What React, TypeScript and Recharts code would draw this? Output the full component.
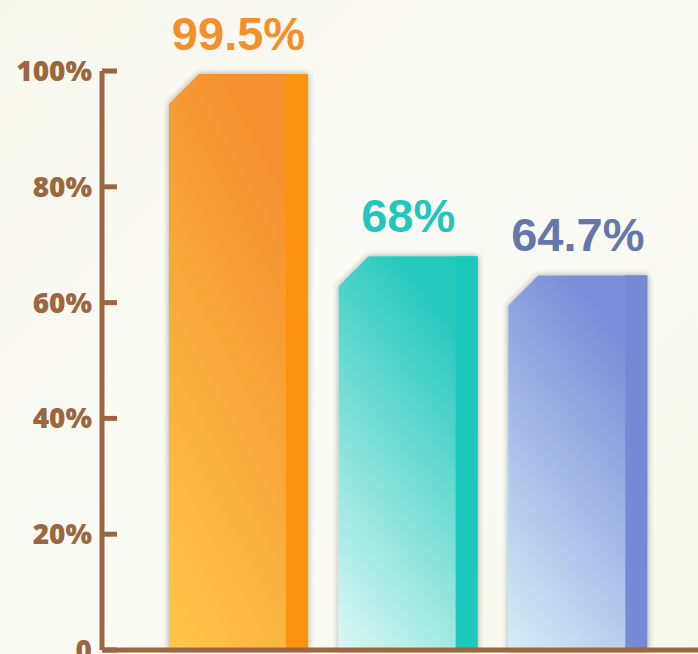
import React from 'react';
import { BarChart, Bar, XAxis, YAxis, LabelList, Cell } from 'recharts';

const categories = ['A', 'B', 'C'];
const values = [99.5, 68, 64.7];
const valueLabels = ['99.5%', '68%', '64.7%'];
const yTicks = [0, 20, 40, 60, 80, 100];

// styling, kept apart from the data
const barColors = [
  { light: '#ffc74a', dark: '#f4902e', strip: '#fc920f', label: '#f58f2a' },
  { light: '#dbf8f4', dark: '#26c9be', strip: '#1dc8bc', label: '#21c6bc' },
  { light: '#d5eef7', dark: '#7a8dd8', strip: '#7689d5', label: '#6576aa' },
];
const AXIS = '#9b6740';

const data = categories.map((name, i) => ({ name, value: values[i], label: valueLabels[i] }));

const ChamferBar = (props: any) => {
  const { x, y, width, height, index } = props;
  if (!height || height <= 0) return null;
  const c = 30;
  const strip = 22;
  const d = `M${x},${y + c} L${x + c},${y} L${x + width},${y} L${x + width},${y + height} L${x},${y + height} Z`;
  return (
    <g filter="url(#barShadow)">
      <path d={d} fill={`url(#grad${index})`} />
      <rect x={x + width - strip} y={y} width={strip} height={height} fill={barColors[index].strip} />
    </g>
  );
};

const ValueLabel = (props: any) => {
  const { x, y, width, value, index } = props;
  return (
    <text
      x={x + width / 2}
      y={y - 24}
      textAnchor="middle"
      fill={barColors[index].label}
      style={{ fontFamily: '"Liberation Sans", Arial, sans-serif', fontWeight: 700, fontSize: 47 }}
    >
      {value}
    </text>
  );
};

const YTick = (props: any) => {
  const { x, y, payload } = props;
  const v = payload.value;
  return (
    <g>
      <line x1={x} x2={x + 15} y1={y} y2={y} stroke={AXIS} strokeWidth={5} />
      <text
        x={x - 10}
        y={y}
        dy={10}
        textAnchor="end"
        fill={AXIS}
        style={{ fontFamily: '"Open Sans", sans-serif', fontWeight: 800, fontSize: 28 }}
      >
        {v === 0 ? '0' : `${v}%`}
      </text>
    </g>
  );
};

export default function App() {
  return (
    <div
      style={{
        position: 'absolute',
        left: 0,
        top: 0,
        width: 698,
        height: 654,
        overflow: 'hidden',
        background: 'linear-gradient(135deg, #f6f7ec 0%, #fbfbf6 45%, #f6f8ec 100%)',
      }}
    >
      <BarChart width={698} height={660} data={data} margin={{ top: 71, right: 0, bottom: 0, left: 0 }}>
        <defs>
          {barColors.map((c, i) => (
            <linearGradient key={i} id={`grad${i}`} x1="0" y1="1" x2="0.45" y2="0">
              <stop offset="0%" stopColor={c.light} />
              <stop offset="100%" stopColor={c.dark} />
            </linearGradient>
          ))}
          <filter id="barShadow" x="-20%" y="-20%" width="140%" height="140%">
            <feDropShadow dx="0" dy="0" stdDeviation="3" floodColor="#000" floodOpacity="0.35" />
          </filter>
        </defs>
        <XAxis
          dataKey="name"
          tick={false}
          tickLine={false}
          height={10}
          axisLine={{ stroke: AXIS, strokeWidth: 5 }}
          padding={{ left: 52, right: 35 }}
        />
        <YAxis
          domain={[0, 100]}
          ticks={yTicks}
          width={102}
          tickSize={0}
          tickMargin={0}
          tickLine={false}
          axisLine={{ stroke: AXIS, strokeWidth: 5 }}
          tick={<YTick />}
          interval={0}
        />
        <Bar dataKey="value" barSize={139} shape={<ChamferBar />} isAnimationActive={false}>
          {data.map((d, i) => (
            <Cell key={d.name} fill={barColors[i].dark} />
          ))}
          <LabelList dataKey="label" content={<ValueLabel />} />
        </Bar>
      </BarChart>
    </div>
  );
}
